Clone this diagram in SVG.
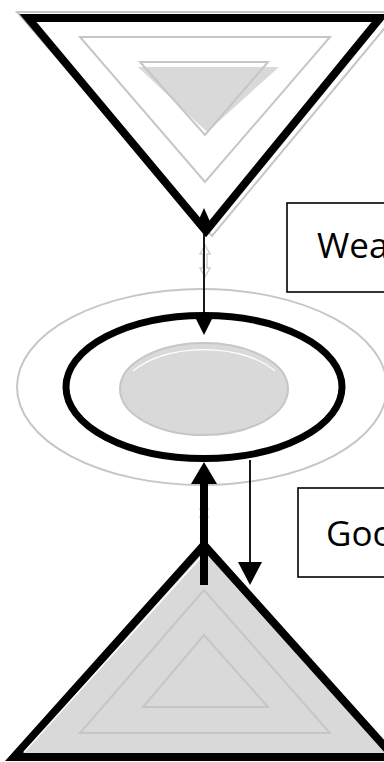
<svg xmlns="http://www.w3.org/2000/svg" width="384" height="762" viewBox="0 0 384 762">
<defs>
<style>
.g{fill:none;stroke:#c6c6c6;stroke-width:2}
.gf{fill:#d9d9d9;stroke:#c6c6c6;stroke-width:2}
.bk{fill:none;stroke:#000;stroke-width:8;stroke-linejoin:miter}
.box{fill:#fff;stroke:#000;stroke-width:1.6}
.t{font-family:"Open Sans","Noto Sans",sans-serif;font-size:35px;fill:#000}
.fa{fill:none;stroke:#d0d0d0;stroke-width:1.5}
</style>
</defs>
<rect width="384" height="762" fill="#fff"/>
<g id="top-triangle">
<polygon class="g" points="17,12 398,12 212,236"/>
<polygon class="bk" points="28,18 380,18 206,231"/>
<polygon class="g" points="80,37 330,37 205,182"/>
<polygon fill="#d9d9d9" points="138,67 279,67 207,132"/>
<polygon class="g" points="140,62 268,62 205,135"/>
</g>
<g id="ellipse">
<ellipse class="g" cx="202" cy="387" rx="185" ry="98"/>
<ellipse cx="204" cy="387" rx="138" ry="71.5" fill="none" stroke="#000" stroke-width="7"/>
<ellipse class="gf" cx="204" cy="389" rx="84" ry="46"/>
<path d="M133,371 A84,46 0 0 1 275,371" fill="none" stroke="#fff" stroke-width="1.2"/>
</g>
<g id="bottom-triangle">
<polygon fill="#d9d9d9" stroke="#000" stroke-width="8" stroke-linejoin="miter" points="204,545 14,757 394,757"/>
<line x1="202" y1="556" x2="24" y2="752" stroke="#fff" stroke-width="1.5"/>
<polygon class="g" points="204,590 80,733 330,733"/>
<polygon class="g" points="204,635 143,707 268,707"/>
</g>
<g id="label-weak">
<rect class="box" x="287" y="203" width="110" height="89"/>
<text class="t" x="317" y="258">Wea</text>
</g>
<g id="label-good">
<rect class="box" x="298" y="488" width="100" height="89"/>
<text class="t" x="326" y="546">Goo</text>
</g>
<g id="connectors">
<path class="fa" d="M205,245 L210,254 L207,254 L207,268 L210,268 L205,277 L200,268 L203,268 L203,254 L200,254 Z"/>
<path class="fa" d="M204,503 L208,509 L206,509 L206,517 L208,517 L204,523 L200,517 L202,517 L202,509 L200,509 Z"/>
<line x1="204" y1="222" x2="204" y2="322" stroke="#000" stroke-width="1.8"/>
<polygon points="204,208 196,226 212,226" fill="#000"/>
<polygon points="204,335 196,319 212,319" fill="#000"/>
<line x1="204" y1="585" x2="204" y2="480" stroke="#000" stroke-width="8"/>
<polygon points="204,462 191,484 217,484" fill="#000"/>
<line x1="250" y1="460" x2="250" y2="565" stroke="#000" stroke-width="1.8"/>
<polygon points="250,585 238,562 262,562" fill="#000"/>
</g>
</svg>
